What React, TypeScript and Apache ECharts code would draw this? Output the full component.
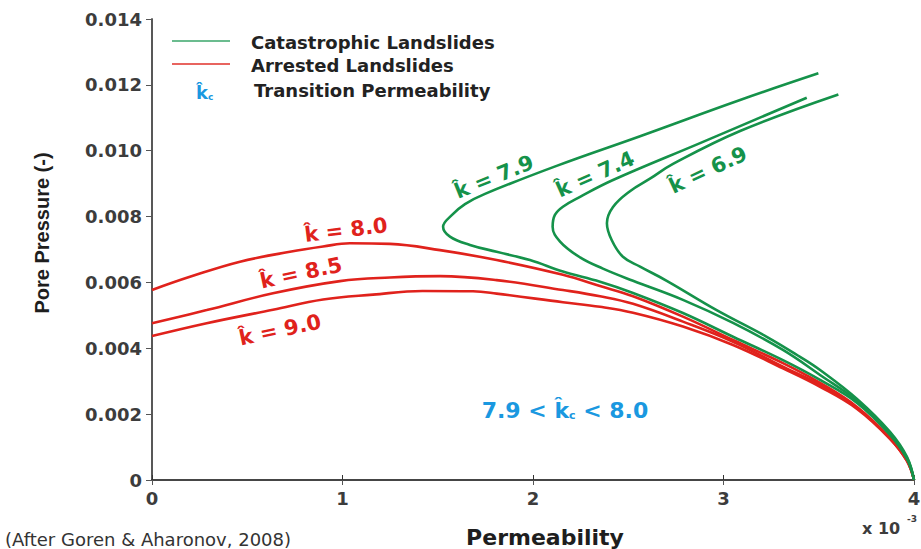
import React, { useEffect, useRef } from "react";
import * as echarts from "echarts";

// Permeability (x 10^-3) vs pore pressure (-)
const arrested80: number[][] = [
  [0, 0.00577], [0.199, 0.00617], [0.462, 0.00663], [0.724, 0.00693], [0.898, 0.00709],
  [1.039, 0.00719], [1.249, 0.00717], [1.512, 0.00698], [1.809, 0.00668], [2.157, 0.00623],
  [2.352, 0.00589], [2.525, 0.00558], [2.787, 0.00496], [3.05, 0.00425], [3.312, 0.00355],
  [3.507, 0.00295], [3.701, 0.00222], [3.874, 0.00128], [3.963, 0.00061], [4.0, 0],
];
const arrested85: number[][] = [
  [0, 0.00476], [0.287, 0.00516], [0.635, 0.00567], [0.987, 0.00604], [1.249, 0.00615],
  [1.512, 0.00619], [1.809, 0.00607], [2.157, 0.00577], [2.352, 0.00558], [2.525, 0.00535],
  [2.787, 0.00481], [3.05, 0.0042], [3.312, 0.00344], [3.507, 0.00289], [3.701, 0.00219],
  [3.874, 0.00126], [3.963, 0.00058], [4.0, 0],
];
const arrested90: number[][] = [
  [0, 0.00437], [0.287, 0.00476], [0.635, 0.00517], [0.898, 0.00548], [1.16, 0.00563],
  [1.42, 0.00574], [1.685, 0.00573], [1.809, 0.00566], [2.157, 0.00540], [2.352, 0.00526],
  [2.525, 0.00508], [2.787, 0.00466], [3.05, 0.0041], [3.312, 0.00339], [3.507, 0.00283],
  [3.701, 0.00216], [3.874, 0.00125], [3.963, 0.00058], [4.0, 0],
];
const catastrophic79: number[][] = [
  [3.498, 0.01235], [3.087, 0.01154], [2.562, 0.01044], [2.124, 0.00954], [1.748, 0.00869],
  [1.643, 0.00838], [1.575, 0.00805], [1.528, 0.00769], [1.564, 0.00739], [1.669, 0.00714],
  [1.809, 0.00693], [1.984, 0.00668], [2.157, 0.00633], [2.352, 0.00602], [2.525, 0.00568],
  [2.787, 0.00507], [3.05, 0.00435], [3.312, 0.00364], [3.507, 0.00304], [3.701, 0.00234],
  [3.874, 0.00137], [3.963, 0.00064], [4.0, 0],
];
const catastrophic74: number[][] = [
  [3.437, 0.01161], [2.877, 0.01023], [2.42, 0.00911], [2.247, 0.0086], [2.157, 0.0083],
  [2.115, 0.00805], [2.103, 0.00769], [2.142, 0.00724], [2.247, 0.00676], [2.367, 0.00642],
  [2.525, 0.00605], [2.787, 0.00547], [3.05, 0.00477], [3.312, 0.00395], [3.507, 0.00319],
  [3.701, 0.0024], [3.874, 0.0014], [3.963, 0.00067], [4.0, 0],
];
const catastrophic69: number[][] = [
  [3.603, 0.01171], [3.087, 0.0106], [2.735, 0.0096], [2.614, 0.00915], [2.509, 0.00877],
  [2.42, 0.00829], [2.388, 0.0078], [2.413, 0.00729], [2.472, 0.00678], [2.562, 0.00648],
  [2.702, 0.00605], [2.964, 0.00516], [3.227, 0.00435], [3.402, 0.00374], [3.507, 0.00334],
  [3.701, 0.00246], [3.874, 0.00146], [3.963, 0.0007], [4.0, 0],
];

const xMin = 0, xMax = 4, xStep = 1;
const yMin = 0, yMax = 0.014, yStep = 0.002;

const GREEN = "#15924a";
const RED = "#e0221c";
const BLUE = "#1a98e0";
const FONT = "DejaVu Sans";

export default function App() {
  const ref = useRef<HTMLDivElement>(null);
  useEffect(() => {
    if (!ref.current) return;
    const chart = echarts.init(ref.current, undefined, { renderer: "svg" });
    const line = (data: number[][], color: string, name: string) => ({
      type: "line",
      name,
      data,
      showSymbol: false,
      symbol: "none",
      smooth: 0.4,
      lineStyle: { color, width: 2.6 },
      xAxisIndex: 0,
      yAxisIndex: 0,
      z: color === GREEN ? 3 : 2,
    });
    const lbl = (text: string, x: number, y: number, deg: number, color: string) => ({
      type: "text",
      x,
      y,
      rotation: (deg * Math.PI) / 180,
      style: {
        text,
        fill: color,
        fontSize: 21,
        fontWeight: "bold",
        fontFamily: FONT,
        align: "center",
        verticalAlign: "middle",
      },
    });
    const axisTextStyle = { color: "#3c3c3c", fontSize: 18, fontWeight: "bold", fontFamily: FONT };
    chart.setOption({
      animation: false,
      grid: { left: 152, right: 7, top: 19, bottom: 69, containLabel: false, outerBoundsMode: "none" },
      xAxis: [
        {
          type: "value", min: xMin, max: xMax, interval: xStep, position: "bottom",
          axisLine: { lineStyle: { color: "#1a1a1a", width: 2 } },
          axisTick: { inside: true, length: 5, lineStyle: { color: "#333" } },
          axisLabel: { ...axisTextStyle, margin: 9 },
          splitLine: { show: false },
        },
        {
          type: "value", min: xMin, max: xMax, interval: xStep, position: "top",
          axisLine: { lineStyle: { color: "#555", width: 1.5 } },
          axisTick: { inside: true, length: 5, lineStyle: { color: "#555" } },
          axisLabel: { show: false }, splitLine: { show: false },
        },
      ],
      yAxis: [
        {
          type: "value", min: yMin, max: yMax, interval: yStep, position: "left",
          axisLine: { show: true, lineStyle: { color: "#333", width: 1.5 } },
          axisTick: { show: true, inside: false, length: 3, lineStyle: { color: "#333" } },
          axisLabel: { ...axisTextStyle, margin: 10, formatter: (v: number) => (v === 0 ? "0" : v.toFixed(3)) },
          splitLine: { show: false },
        },
        {
          type: "value", min: yMin, max: yMax, interval: yStep, position: "right",
          axisLine: { show: true, lineStyle: { color: "#555", width: 1.5 } },
          axisTick: { show: true, inside: true, length: 6, lineStyle: { color: "#555" } },
          axisLabel: { show: false }, splitLine: { show: false },
        },
      ],
      series: [
        line(arrested80, RED, "Arrested Landslides"),
        line(arrested85, RED, "Arrested Landslides"),
        line(arrested90, RED, "Arrested Landslides"),
        line(catastrophic79, GREEN, "Catastrophic Landslides"),
        line(catastrophic74, GREEN, "Catastrophic Landslides"),
        line(catastrophic69, GREEN, "Catastrophic Landslides"),
      ],
      graphic: [
        // axis titles
        {
          type: "text", x: 42, y: 233, rotation: Math.PI / 2,
          style: { text: "Pore Pressure (-)", fill: "#1e1e1e", fontSize: 20, fontWeight: "bold", fontFamily: "Liberation Sans", align: "center", verticalAlign: "middle" },
        },
        {
          type: "text", x: 545, y: 537,
          style: { text: "Permeability", fill: "#1e1e1e", fontSize: 22, fontWeight: "bold", fontFamily: FONT, align: "center", verticalAlign: "middle" },
        },
        // legend
        { type: "line", shape: { x1: 172, y1: 41, x2: 230, y2: 41 }, style: { stroke: "#3aa66a", lineWidth: 1.6 } },
        { type: "line", shape: { x1: 172, y1: 64, x2: 230, y2: 64 }, style: { stroke: "#e0302a", lineWidth: 1.6 } },
        { type: "text", x: 251, y: 42, style: { text: "Catastrophic Landslides", fill: "#222", fontSize: 18, fontWeight: "bold", fontFamily: FONT, verticalAlign: "middle" } },
        { type: "text", x: 251, y: 65, style: { text: "Arrested Landslides", fill: "#222", fontSize: 18, fontWeight: "bold", fontFamily: FONT, verticalAlign: "middle" } },
        {
          type: "text", x: 196, y: 90,
          style: {
            text: "{m|k\u0302}{s|c}", verticalAlign: "middle",
            rich: {
              m: { fill: BLUE, fontSize: 18, fontWeight: "bold", fontFamily: FONT, lineHeight: 22, verticalAlign: "bottom" },
              s: { fill: BLUE, fontSize: 9, fontWeight: "bold", fontFamily: FONT, lineHeight: 9, verticalAlign: "bottom" },
            },
          },
        },
        { type: "text", x: 254, y: 90, style: { text: "Transition Permeability", fill: "#222", fontSize: 18, fontWeight: "bold", fontFamily: FONT, verticalAlign: "middle" } },
        // curve labels
        lbl("k\u0302 = 8.0", 346, 230, 7, RED),
        lbl("k\u0302 = 8.5", 301, 273, 12, RED),
        lbl("k\u0302 = 9.0", 280, 330, 12, RED),
        lbl("k\u0302 = 7.9", 494, 177, 22, GREEN),
        lbl("k\u0302 = 7.4", 595, 174, 24, GREEN),
        lbl("k\u0302 = 6.9", 708, 170, 25, GREEN),
        // range annotation
        {
          type: "text", x: 565, y: 408,
          style: {
            text: "{m|7.9 < k\u0302}{s|c}{m| < 8.0}", align: "center", verticalAlign: "middle",
            rich: {
              m: { fill: BLUE, fontSize: 22, fontWeight: "bold", fontFamily: FONT, lineHeight: 26, verticalAlign: "bottom" },
              s: { fill: BLUE, fontSize: 11, fontWeight: "bold", fontFamily: FONT, lineHeight: 11, verticalAlign: "bottom" },
            },
          },
        },
        // axis multiplier
        { type: "text", x: 862, y: 528, style: { text: "x 10", fill: "#3c3c3c", fontSize: 16, fontWeight: "bold", fontFamily: FONT, verticalAlign: "middle" } },
        { type: "text", x: 907, y: 519, style: { text: "-3", fill: "#3c3c3c", fontSize: 9, fontWeight: "bold", fontFamily: FONT, verticalAlign: "middle" } },
        // credit
        { type: "text", x: 5, y: 539, style: { text: "(After Goren & Aharonov, 2008)", fill: "#333", fontSize: 18, fontFamily: FONT, verticalAlign: "middle" } },
      ],
    });
    return () => chart.dispose();
  }, []);
  return <div ref={ref} style={{ position: "fixed", left: 0, top: 0, width: 921, height: 549, background: "#fff" }} />;
}
